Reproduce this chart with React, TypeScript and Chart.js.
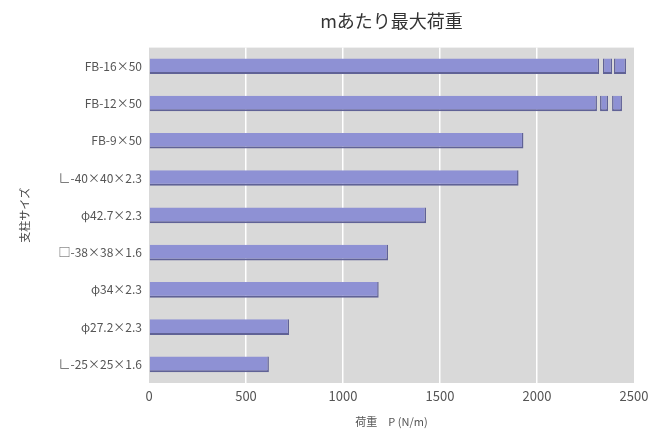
import React, { useEffect, useRef } from "react";
import { Chart, registerables } from "chart.js";

Chart.register(...registerables);

const categories = [
  "FB-16×50",
  "FB-12×50",
  "FB-9×50",
  "∟-40×40×2.3",
  "φ42.7×2.3",
  "□-38×38×1.6",
  "φ34×2.3",
  "φ27.2×2.3",
  "∟-25×25×1.6",
];

const maxLoad = [2320, 2309, 1930, 1905, 1428, 1232, 1184, 722, 618];
const breakSegment1: ([number, number] | null)[] = [[2340, 2387], [2325, 2366], null, null, null, null, null, null, null];
const breakSegment2: ([number, number] | null)[] = [[2397, 2459], [2387, 2438], null, null, null, null, null, null, null];

const xTicks = [0, 500, 1000, 1500, 2000, 2500];

const FONT = "'Noto Sans CJK JP', 'Noto Sans', sans-serif";
const BAR = "rgb(142,145,212)";
const BAR_EDGE = "rgb(96,98,150)";

const plotBg = {
  id: "plotBg",
  beforeDraw(chart: any) {
    const { ctx, chartArea } = chart;
    ctx.save();
    ctx.fillStyle = "#d9d9d9";
    ctx.fillRect(chartArea.left, chartArea.top, chartArea.right - chartArea.left, chartArea.bottom - chartArea.top);
    ctx.restore();
  },
};

export default function App() {
  const ref = useRef<HTMLCanvasElement>(null);
  useEffect(() => {
    document.body.style.margin = "0";
    const barStyle = {
      backgroundColor: BAR,
      borderColor: BAR_EDGE,
      borderWidth: { top: 0, left: 0, right: 1.5, bottom: 2 },
      borderSkipped: false as any,
      barPercentage: 0.42,
      categoryPercentage: 1,
      grouped: false,
    };
    const chart = new Chart(ref.current!, {
      type: "bar",
      data: {
        labels: categories,
        datasets: [
          { label: "max", data: maxLoad, ...barStyle },
          { label: "b1", data: breakSegment1 as any, ...barStyle, borderWidth: { top: 0, left: 1.5, right: 1.5, bottom: 2 } },
          { label: "b2", data: breakSegment2 as any, ...barStyle, borderWidth: { top: 0, left: 1.5, right: 1.5, bottom: 2 } },
        ],
      },
      plugins: [plotBg],
      options: {
        indexAxis: "y",
        animation: false,
        responsive: false,
        maintainAspectRatio: false,
        layout: { padding: { left: 14, right: 27, top: 0, bottom: 0 } },
        plugins: {
          legend: { display: false },
          tooltip: { enabled: false },
          title: {
            display: true,
            fullSize: false,
            text: "mあたり最大荷重",
            color: "#333",
            font: { family: FONT, size: 18, weight: "normal" },
            padding: { top: 10, bottom: 16 },
            align: "center",
          },
        },
        scales: {
          x: {
            min: 0,
            max: 2500,
            afterBuildTicks: (scale: any) => {
              scale.ticks = xTicks.map((v) => ({ value: v }));
            },
            afterFit: (scale: any) => {
              scale.height = 47;
            },
            border: { display: false },
            grid: {
              drawTicks: false,
              color: (c: any) => (c.tick && (c.tick.value === 0 || c.tick.value === 2500) ? "rgba(0,0,0,0)" : "#ffffff"),
              lineWidth: 1.5,
            },
            ticks: {
              color: "#555",
              font: { family: FONT, size: 13 },
              padding: 5,
              callback: (v: any) => String(v),
            },
            title: {
              display: true,
              text: "荷重　P (N/m)",
              color: "#555",
              font: { family: FONT, size: 11 },
              padding: { top: 0, bottom: 2 },
            },
          },
          y: {
            afterFit: (scale: any) => {
              scale.width = 135;
            },
            border: { display: false },
            grid: { display: false, drawTicks: false },
            ticks: { color: "#555", font: { family: FONT, size: 12 }, padding: 7 },
            title: {
              display: true,
              text: "支柱サイズ",
              color: "#444",
              font: { family: FONT, size: 11 },
              padding: { top: 4, bottom: 0 },
            },
          },
        },
      },
    });
    return () => chart.destroy();
  }, []);
  return (
    <div style={{ width: 661, height: 430, background: "#fff" }}>
      <canvas ref={ref} width={661} height={430} style={{ display: "block" }} />
    </div>
  );
}
